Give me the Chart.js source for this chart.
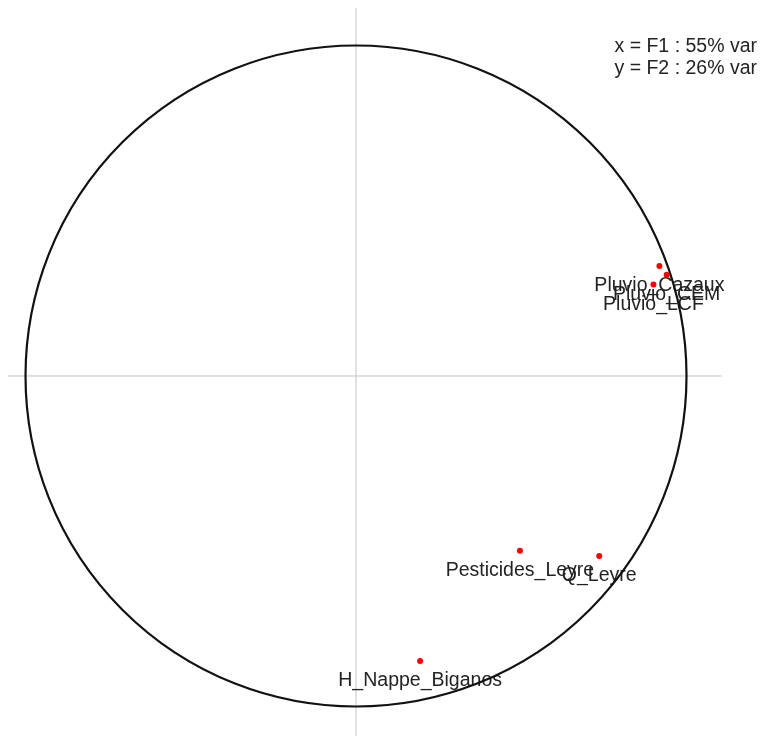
<!DOCTYPE html>
<html>
<head>
<meta charset="utf-8">
<title>Cercle des corrélations F1 x F2</title>
<script src="https://cdn.jsdelivr.net/npm/chart.js@4.4.1/dist/chart.umd.min.js"></script>
<style>
  html, body { margin: 0; padding: 0; background: #ffffff; }
  #wrap { width: 769px; height: 736px; }
</style>
</head>
<body>
<div id="wrap"><canvas id="c" width="769" height="736"></canvas></div>
<script>
// Variables projected on the first factorial plane (correlations with F1 and F2)
const variables = ["Pluvio_Cazaux", "Pluvio_CEM", "Pluvio_LCF", "Pesticides_Leyre", "Q_Leyre", "H_Nappe_Biganos"];
const corF1 = [0.918, 0.940, 0.900, 0.496, 0.736, 0.194];
const corF2 = [0.333, 0.306, 0.277, -0.529, -0.545, -0.862];

// Share of inertia carried by each axis
const axisNames = ["F1", "F2"];
const axisVar = [55, 26];

// Extent of the grey reference axes, in correlation units
const hAxisFrom = -1.053, hAxisTo = 1.107;
const vAxisFrom = -1.2,  vAxisTo = 1.113;

const points = variables.map((name, i) => ({ x: corF1[i], y: corF2[i], label: name }));

const FONT = '19.5px "Liberation Sans", Arial, sans-serif';
const INK = '#232323';

// Labels and unit circle drawn just before the points, above the grey axes
const circleAndLabels = {
  id: 'circleAndLabels',
  beforeDatasetDraw(chart, args) {
    if (args.index !== 2) return;
    const ctx = chart.ctx;
    const xs = chart.scales.x, ys = chart.scales.y;
    ctx.save();
    ctx.font = FONT;
    ctx.fillStyle = INK;
    ctx.textAlign = 'center';
    ctx.textBaseline = 'middle';
    points.forEach(p => {
      ctx.fillText(p.label, xs.getPixelForValue(p.x), ys.getPixelForValue(p.y) + 20);
    });
    // correlation circle of radius 1
    const cx = xs.getPixelForValue(0), cy = ys.getPixelForValue(0);
    const rx = xs.getPixelForValue(1) - cx;
    const ry = cy - ys.getPixelForValue(1);
    ctx.beginPath();
    ctx.ellipse(cx, cy, rx, ry, 0, 0, Math.PI * 2);
    ctx.lineWidth = 2.2;
    ctx.strokeStyle = '#111111';
    ctx.stroke();
    ctx.restore();
  },
  afterDraw(chart) {
    const ctx = chart.ctx;
    ctx.save();
    ctx.font = FONT;
    ctx.fillStyle = INK;
    ctx.textAlign = 'right';
    ctx.textBaseline = 'middle';
    ctx.fillText('x = ' + axisNames[0] + ' : ' + axisVar[0] + '% var', 757, 47);
    ctx.fillText('y = ' + axisNames[1] + ' : ' + axisVar[1] + '% var', 757, 69);
    ctx.restore();
  }
};

new Chart(document.getElementById('c'), {
  type: 'scatter',
  data: {
    datasets: [
      {
        type: 'line',
        data: [{ x: hAxisFrom, y: 0 }, { x: hAxisTo, y: 0 }],
        borderColor: '#c4c4c4',
        borderWidth: 1,
        pointRadius: 0,
        fill: false,
        order: 3
      },
      {
        type: 'line',
        data: [{ x: 0, y: vAxisFrom }, { x: 0, y: vAxisTo }],
        borderColor: '#c4c4c4',
        borderWidth: 1,
        pointRadius: 0,
        fill: false,
        order: 3
      },
      {
        data: points,
        backgroundColor: '#ff0000',
        borderColor: '#ff0000',
        pointRadius: 3,
        pointHoverRadius: 3,
        borderWidth: 0,
        order: 1
      }
    ]
  },
  options: {
    responsive: false,
    animation: false,
    devicePixelRatio: 1,
    layout: { padding: 0, autoPadding: false },
    plugins: { legend: { display: false }, tooltip: { enabled: false } },
    scales: {
      x: { type: 'linear', min: -1.0772, max: 1.2496, display: false },
      y: { type: 'linear', min: -1.0893, max: 1.1377, display: false }
    }
  },
  plugins: [circleAndLabels]
});
</script>
</body>
</html>
